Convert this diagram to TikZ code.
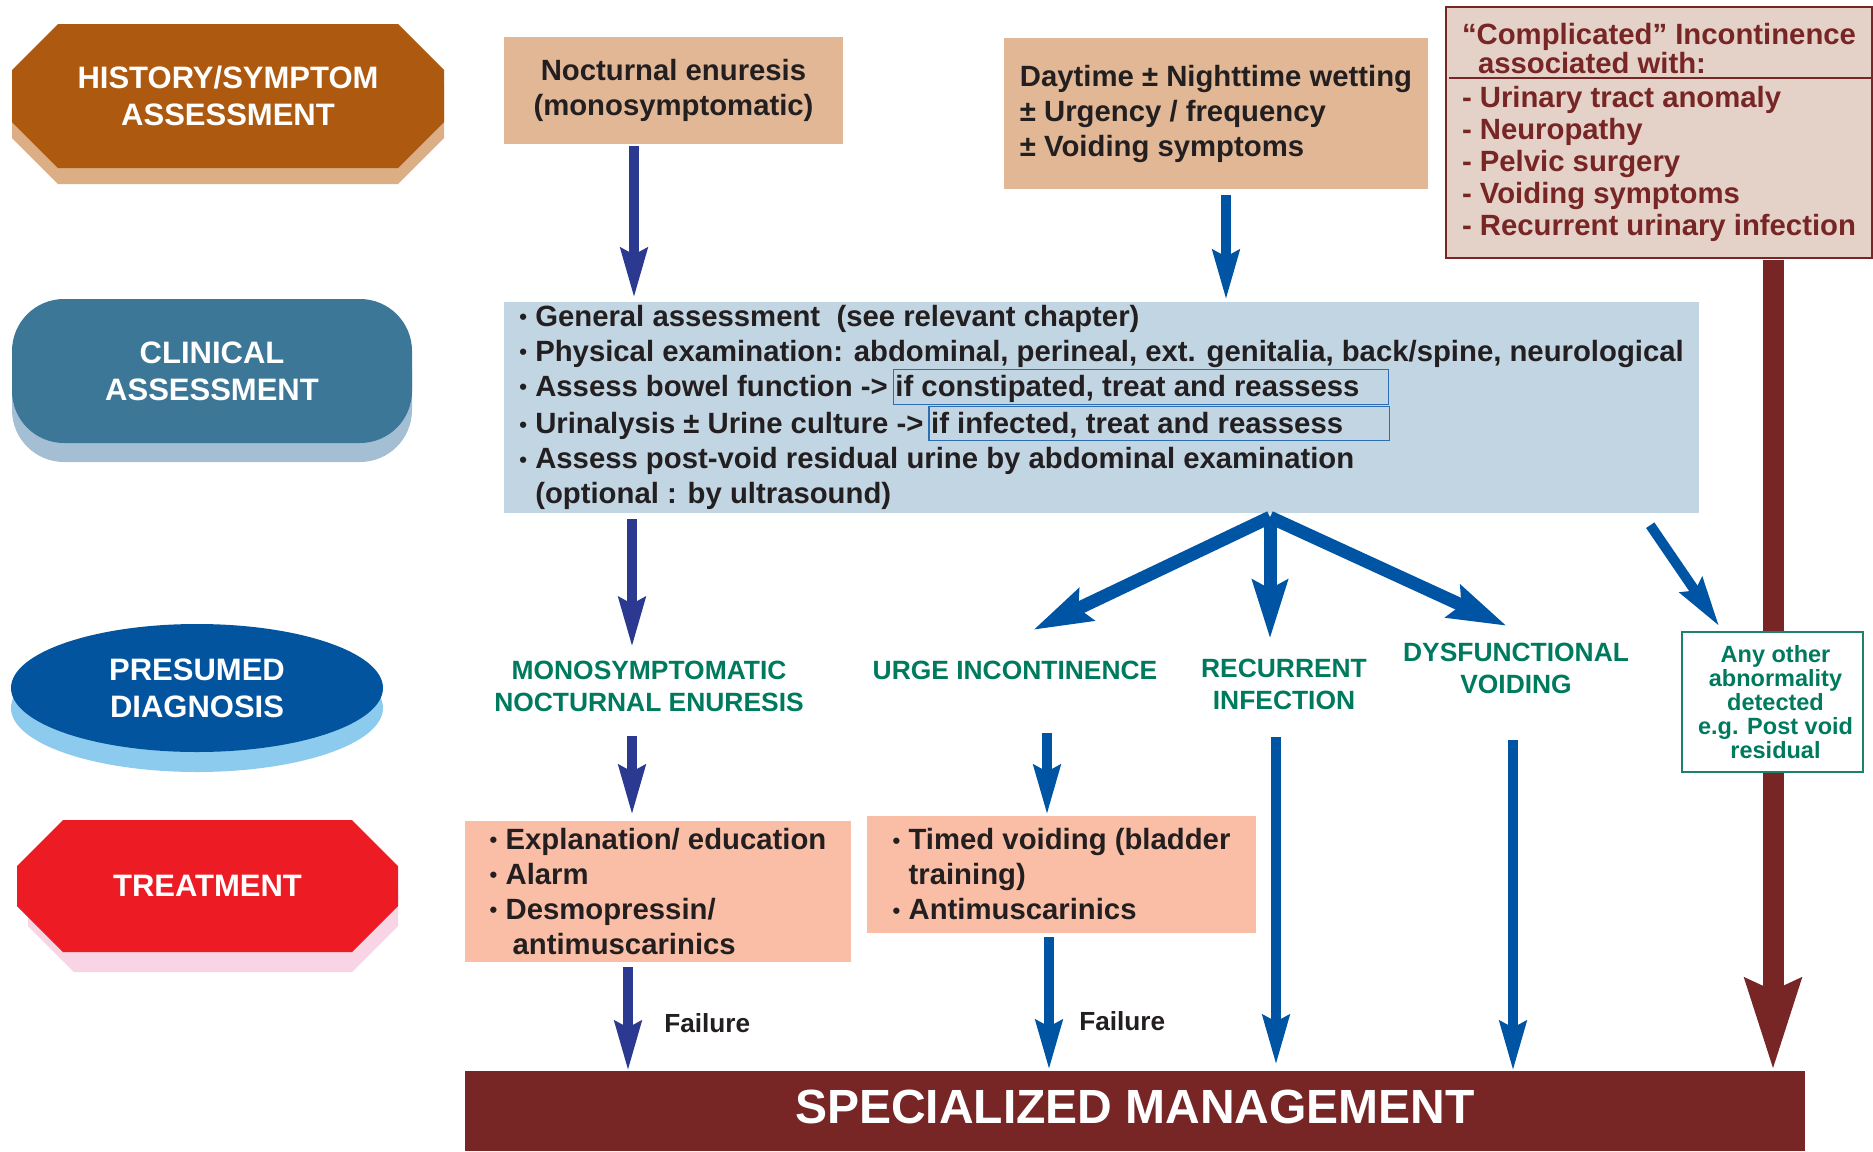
\documentclass[tikz,border=0pt]{standalone}
\usepackage{fontspec}
\setmainfont{Liberation Sans}
\usetikzlibrary{arrows.meta,calc,shapes.geometric,shadows}

\definecolor{histbrown}{HTML}{AD5A10}
\definecolor{histtan}{HTML}{DCAE86}
\definecolor{peach}{HTML}{E1B795}
\definecolor{compfill}{HTML}{E4D1C8}
\definecolor{maroon}{HTML}{772525}
\definecolor{clinteal}{HTML}{3C7797}
\definecolor{clinshade}{HTML}{A4BED3}
\definecolor{clinfill}{HTML}{C2D5E3}
\definecolor{inblue}{HTML}{2D6DB3}
\definecolor{diagblue}{HTML}{03549F}
\definecolor{diagshade}{HTML}{8CCBED}
\definecolor{treatred}{HTML}{ED1C24}
\definecolor{treatpink}{HTML}{F8D4E4}
\definecolor{salmon}{HTML}{F9BEA5}
\definecolor{diaggreen}{HTML}{007A5E}
\definecolor{boxgreen}{HTML}{1C826A}
\definecolor{navy}{HTML}{2B3990}
\definecolor{midblue}{HTML}{0054A4}
\definecolor{ink}{HTML}{231F20}

\newcommand{\bul}{\makebox[16pt][l]{\raisebox{1.5pt}{\fontsize{22}{22}\selectfont •}}}
\newcommand{\inbox}[2]{{\fboxsep=1.5pt\fboxrule=1.2pt\fcolorbox{inblue}{clinfill}{\makebox[#1][l]{\rule[-3pt]{0pt}{28pt}#2}}}}
% octagon with 46pt corners: left x, right x, top y, bottom y
\newcommand{\octagon}[4]{({#1+46},#3) -- ({#2-46},#3) -- (#2,{#3-46}) -- (#2,{#4+46}) -- ({#2-46},#4) -- ({#1+46},#4) -- (#1,{#4+46}) -- (#1,{#3-46}) -- cycle}

\begin{document}
\begin{tikzpicture}[x=1pt,y=1pt,node distance=100pt,
rowlabel/.style={text=white,align=center,inner sep=0pt,font=\bfseries\fontsize{31}{37}\selectfont},
data/.style={rectangle,inner sep=0pt,align=left,text=ink,font=\bfseries\fontsize{29.3}{35}\selectfont},
diagnosis/.style={align=center,text=diaggreen,font=\bfseries\fontsize{26.4}{32}\selectfont},
fail/.style={text=ink,font=\bfseries\fontsize{26.2}{30}\selectfont},
navyarrow/.style={draw=navy,line width=10pt,-{Stealth[length=49pt,width=26pt,inset=6pt]}},
bluearrow/.style={navyarrow,draw=midblue},
fanarrow/.style={draw=midblue,line width=13pt,-{Stealth[length=58pt,width=34pt,inset=8pt]}},
maroonarrow/.style={draw=maroon,line width=21pt,-{Stealth[length=90pt,width=53pt,inset=10pt]}}
]
\useasboundingbox (0,0) rectangle (1873,-1151);

% row labels
\fill[histtan] \octagon{12}{444}{-40}{-184};
\fill[histbrown] \octagon{12}{444}{-24}{-168};
\node (hist) [rowlabel,minimum width=432pt,minimum height=144pt] at (228,-96) {HISTORY/SYMPTOM\\ASSESSMENT};
\node (clinlab) [rowlabel,rectangle,rounded corners=52pt,fill=clinteal,minimum width=400pt,minimum height=144pt,
  general shadow={fill=clinshade,shadow yshift=-19pt},node distance=275pt,below of=hist,xshift=-16pt] {CLINICAL\\ASSESSMENT};
\node (presumed) [rowlabel,ellipse,fill=diagblue,minimum width=372pt,minimum height=128pt,
  general shadow={fill=diagshade,shadow yshift=-20pt},node distance=317pt,below of=clinlab,xshift=-15pt] {PRESUMED\\DIAGNOSIS};
\fill[treatpink] \octagon{28}{398}{-840}{-972};
\fill[treatred] \octagon{17}{398}{-820}{-952};
\node (treatlab) [rowlabel,minimum width=381pt,minimum height=132pt,node distance=198pt,below of=presumed,xshift=10.5pt] {TREATMENT};

% history
\node (noct) [data,align=center,fill=peach,minimum width=339pt,minimum height=107pt] at (673.5,-90.5)
  {Nocturnal enuresis\\(monosymptomatic)};
\node (day) [data,fill=peach,minimum width=424pt,minimum height=151pt,node distance=542.5pt,right of=noct,yshift=-23pt]
  {Daytime ± Nighttime wetting\\± Urgency / frequency\\± Voiding symptoms};
\node (compl) [data,text=maroon,draw=maroon,line width=2pt,fill=compfill,minimum width=426pt,minimum height=251pt,
  font=\bfseries\fontsize{29.3}{32}\selectfont,node distance=443pt,right of=day,yshift=-19pt]
  {“Complicated” Incontinence\\[-3pt]
   \hspace*{16pt}associated with:\\[2pt]
   - Urinary tract anomaly\\
   - Neuropathy\\
   - Pelvic surgery\\
   - Voiding symptoms\\
   - Recurrent urinary infection};
\draw[maroon,line width=2pt] ($(compl.north west)+(4,-72)$) -- ($(compl.north east)+(0,-72)$);

% clinical assessment
\node (clin) [data,fill=clinfill,minimum width=1195pt,minimum height=211pt] at (1101.5,-407.5)
  {\bul General assessment\ \ (see relevant chapter)\\
   \bul Physical examination: abdominal, perineal, ext. genitalia, back/spine, neurological\\
   \bul Assess bowel function ->\hspace{5pt}\inbox{491pt}{if constipated, treat and reassess}\\
   \bul Urinalysis ± Urine culture ->\hspace{5pt}\inbox{456pt}{if infected, treat and reassess}\\
   \bul Assess post-void residual urine by abdominal examination\\
   \hspace*{16pt}(optional : by ultrasound)};

% presumed diagnosis
\node (mono) [diagnosis] at (649,-686) {MONOSYMPTOMATIC\\NOCTURNAL ENURESIS};
\node (urge) [diagnosis,node distance=366pt,right of=mono,yshift=16pt] {URGE INCONTINENCE};
\node (recur) [diagnosis,node distance=269pt,right of=urge,yshift=-14pt] {RECURRENT\\INFECTION};
\node (dysf) [diagnosis,node distance=232pt,right of=recur,yshift=16pt] {DYSFUNCTIONAL\\VOIDING};

% treatment
\node (treat1) [data,fill=salmon,minimum width=386pt,minimum height=141pt,node distance=205.5pt,below of=mono,xshift=9pt]
  {\bul Explanation/ education\\
   \bul Alarm\\
   \bul Desmopressin/\\
   \hspace*{23pt}antimuscarinics};
\node (treat2) [data,fill=salmon,minimum width=389pt,minimum height=117pt,node distance=403.5pt,right of=treat1,yshift=17pt]
  {\bul Timed voiding (bladder\\
   \hspace*{16pt}training)\\
   \bul Antimuscarinics};

\node (spec) [rectangle,fill=maroon,text=white,minimum width=1340pt,minimum height=80pt,text depth=8pt,
  font=\bfseries\fontsize{48}{56}\selectfont] at (1135,-1111) {SPECIALIZED MANAGEMENT};

% arrows
\draw[navyarrow] ($(noct.south)+(-39.5,-2)$) -- ($(clin.north -| noct.south)+(-39.5,4)$);
\draw[bluearrow] ($(day.south)+(10,-6)$) -- ($(clin.north -| day.south)+(10,2)$);
\draw[navyarrow] ($(clin.south -| mono)+(-17,-6)$) -- ($(mono)+(-17,39)$);
\draw[navyarrow] ($(mono)+(-17,-50)$) -- ($(treat1.north -| mono)+(-17,6)$);
\draw[navyarrow] ($(treat1.south)+(-30,-5)$) -- node[fail,pos=0.54,right=28pt] (fail1) {Failure}
  ($(spec.north -| treat1.south)+(-30,0)$);
\draw[bluearrow] ($(urge)+(32,-63)$) -- ($(treat2.north -| urge)+(32,1)$);
\draw[bluearrow] ($(treat2.south)+(-12.5,-4)$) -- node[fail,pos=0.63,right=22pt] (fail2) {Failure}
  ($(spec.north -| treat2.south)+(-12.5,1)$);
\draw[bluearrow] ($(recur)+(-8,-53)$) -- ($(spec.north -| recur)+(-8,6)$);
\draw[bluearrow] ($(dysf)+(-3,-72)$) -- ($(spec.north -| dysf)+(-3,0)$);

\coordinate (fan) at ($(clin.south)+(168.5,-4)$);
\draw[fanarrow] (fan) -- ($(urge)+(18,40)$);
\draw[fanarrow] (fan) -- ($(recur)+(-14,45)$);
\draw[fanarrow] (fan) -- ($(dysf)+(-9,42)$);

\draw[maroonarrow] ($(compl.south)+(114,-1)$) -- ($(spec.north -| compl.south)+(114,0)$);

\node (anyo) [diagnosis,draw=boxgreen,line width=1.5pt,fill=white,minimum width=181pt,minimum height=140pt,inner sep=0pt,
  font=\bfseries\fontsize{23.5}{24}\selectfont,node distance=256.5pt,right of=dysf,yshift=-34pt]
  {\hspace*{6pt}Any other\\\hspace*{6pt}abnormality\\\hspace*{6pt}detected\\\hspace*{6pt}e.g. Post void\\\hspace*{6pt}residual};
\draw[bluearrow] ($(clin.south east)+(-49,-12)$) -- ($(anyo.north west)+(38,5)$);
\end{tikzpicture}
\end{document}
